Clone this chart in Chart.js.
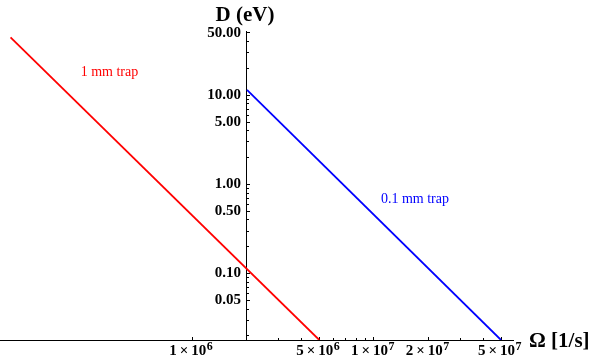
<!DOCTYPE html>
<html><head><meta charset="utf-8">
<script src="https://cdn.jsdelivr.net/npm/chart.js@4.4.0/dist/chart.umd.min.js"></script>
<style>html,body{margin:0;padding:0;background:#fff;} canvas{display:block;}</style>
</head><body>
<canvas id="c" width="597" height="363"></canvas>
<script>
// ---- data ----
const redOmega = [1e5, 5e6];
const redD = [44.5, 0.018];
const blueOmega = [2e6, 5e7];
const blueD = [11.5, 0.018];
const xMajorTicks = [1e6, 5e6, 1e7, 2e7, 5e7];
const xTickMantissa = ['1\u2009×\u200910', '5\u2009×\u200910', '1\u2009×\u200910', '2\u2009×\u200910', '5\u2009×\u200910'];
const xTickExponent = ['6', '6', '7', '7', '7'];
const xMinorTicks = [3e6, 4e6, 6e6, 7e6, 8e6, 9e6, 3e7, 4e7];
const yMajorTicks = [0.05, 0.1, 0.5, 1, 5, 10, 50];
const yMajorLabels = ['0.05', '0.10', '0.50', '1.00', '5.00', '10.00', '50.00'];
const yMinorTicks = [0.02, 0.03, 0.04, 0.06, 0.07, 0.08, 0.09, 0.2, 0.3, 0.4, 0.6, 0.7, 0.8, 0.9, 2, 3, 4, 6, 7, 8, 9, 20, 30, 40];
const xRange = [8.75e4, 5.82e7];
const yRange = [0.018, 52.5];
const axisCross = 2e6;
const yLabelAnchor = 1.854e6;
const seriesNames = ['1 mm trap', '0.1 mm trap'];
const labelAt = [[3.5e5, 18], [1.68e7, 0.68]];

const serif = '"Liberation Serif", "Times New Roman", serif';

function toPts(xs, ys) { return xs.map((x, i) => ({x: x, y: ys[i]})); }
function fixedTicks(arr) { return s => { s.ticks = arr.map(v => ({value: v})); }; }

const textPlugin = {
  id: 'texts',
  afterDraw(chart) {
    const ctx = chart.ctx, xs = chart.scales.x, ys = chart.scales.y;
    ctx.save();
    ctx.fillStyle = '#000';
    ctx.font = 'bold 21px ' + serif;
    ctx.textAlign = 'center';
    ctx.textBaseline = 'alphabetic';
    ctx.fillText('D (eV)', xs.getPixelForValue(axisCross) - 2, 21);
    ctx.textAlign = 'left';
    ctx.fillText('Ω [1/s]', xs.right + 16, ys.bottom + 7);
    ctx.font = '14px ' + serif;
    ctx.textAlign = 'center';
    ctx.textBaseline = 'middle';
    ctx.fillStyle = '#ff0000';
    ctx.fillText(seriesNames[0], xs.getPixelForValue(labelAt[0][0]), ys.getPixelForValue(labelAt[0][1]));
    ctx.fillStyle = '#0000ff';
    ctx.fillText(seriesNames[1], xs.getPixelForValue(labelAt[1][0]), ys.getPixelForValue(labelAt[1][1]));
    ctx.restore();
  }
};

const logAxis = (rng, pos, extra) => Object.assign({
  type: 'logarithmic', min: rng[0], max: rng[1], position: pos
}, extra);

new Chart(document.getElementById('c'), {
  type: 'line',
  data: {
    datasets: [
      {label: seriesNames[0], data: toPts(redOmega, redD), borderColor: '#ff0000', borderWidth: 1.8, pointRadius: 0, fill: false},
      {label: seriesNames[1], data: toPts(blueOmega, blueD), borderColor: '#0000ff', borderWidth: 1.8, pointRadius: 0, fill: false}
    ]
  },
  options: {
    responsive: false,
    animation: false,
    devicePixelRatio: 1,
    layout: {padding: {left: 0, right: 84, top: 31, bottom: 23}},
    plugins: {legend: {display: false}, tooltip: {enabled: false}},
    scales: {
      // main x axis: line, major ticks, mantissa of labels
      x: logAxis(xRange, {y: yRange[0]}, {
        afterBuildTicks: fixedTicks(xMajorTicks),
        ticks: {autoSkip: false, maxRotation: 0, color: '#000', padding: 6, labelOffset: -4.5,
          font: {family: serif, size: 15, weight: 'bold'},
          callback: v => xTickMantissa[xMajorTicks.indexOf(v)]},
        grid: {drawOnChartArea: false, drawTicks: true, tickLength: -4, color: '#000', tickWidth: 1},
        border: {display: true, color: '#000', width: 1}
      }),
      // exponents of the x tick labels
      xe: logAxis(xRange, {y: yRange[0]}, {
        afterBuildTicks: fixedTicks(xMajorTicks),
        ticks: {autoSkip: false, maxRotation: 0, color: '#000', padding: 0, labelOffset: 17.5,
          font: {family: serif, size: 12, weight: 'bold'},
          callback: v => xTickExponent[xMajorTicks.indexOf(v)]},
        grid: {display: false, drawOnChartArea: false, drawTicks: false},
        border: {display: false}
      }),
      // minor x ticks
      x2: logAxis(xRange, {y: yRange[0]}, {
        afterBuildTicks: fixedTicks(xMinorTicks),
        ticks: {display: false, autoSkip: false},
        grid: {drawOnChartArea: false, drawTicks: true, tickLength: -2, color: '#000', tickWidth: 1},
        border: {display: false}
      }),
      // main y axis: line + major ticks
      y: logAxis(yRange, {x: axisCross}, {
        afterBuildTicks: fixedTicks(yMajorTicks),
        ticks: {display: false, autoSkip: false},
        grid: {drawOnChartArea: false, drawTicks: true, tickLength: -4, color: '#000', tickWidth: 1},
        border: {display: true, color: '#000', width: 1}
      }),
      // y tick labels
      yl: logAxis(yRange, {x: yLabelAnchor}, {
        afterBuildTicks: fixedTicks(yMajorTicks),
        ticks: {autoSkip: false, color: '#000',
          font: {family: serif, size: 15, weight: 'bold'},
          callback: v => yMajorLabels[yMajorTicks.indexOf(v)]},
        grid: {display: false, drawOnChartArea: false, drawTicks: false},
        border: {display: false}
      }),
      // minor y ticks
      y2: logAxis(yRange, {x: axisCross}, {
        afterBuildTicks: fixedTicks(yMinorTicks),
        ticks: {display: false, autoSkip: false},
        grid: {drawOnChartArea: false, drawTicks: true, tickLength: -2, color: '#000', tickWidth: 1},
        border: {display: false}
      })
    }
  },
  plugins: [textPlugin]
});
</script>
</body></html>
